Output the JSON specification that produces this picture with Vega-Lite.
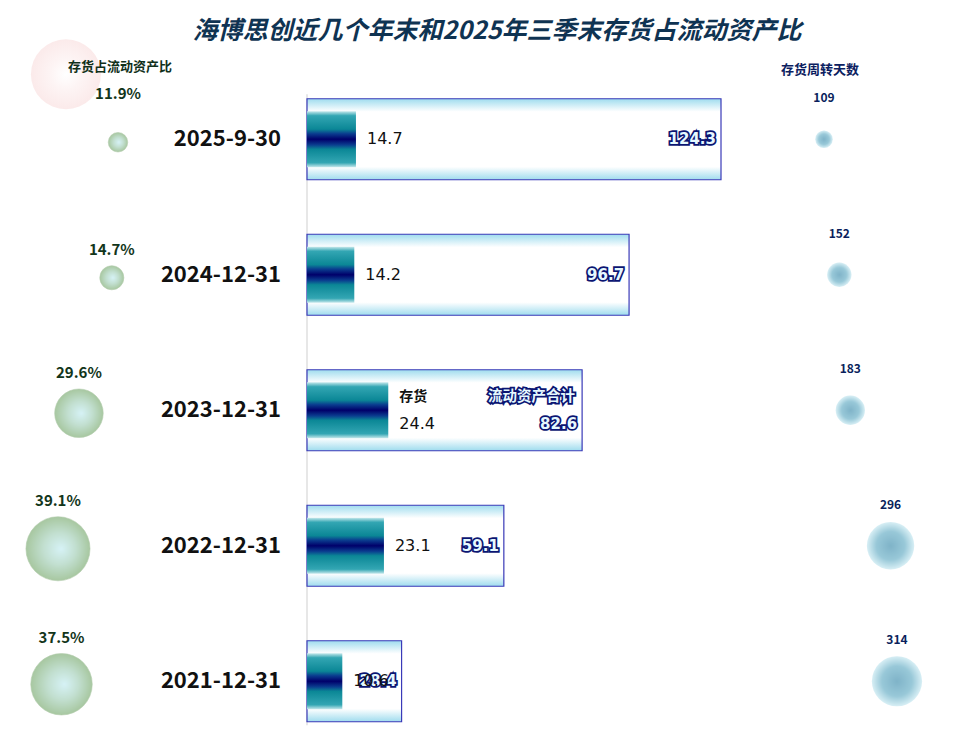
{
  "$schema": "https://vega.github.io/schema/vega-lite/v6.json",
  "width": 960,
  "height": 750,
  "padding": 0,
  "autosize": {"type": "none"},
  "background": "white",
  "config": {"view": {"stroke": null}},
  "title": {"text": "海博思创近几个年末和2025年三季末存货占流动资产比", "fontSize": 25, "font": "Noto Sans CJK SC", "fontWeight": "bold", "fontStyle": "italic", "color": "#0f3352", "offset": -42, "baseline": "bottom", "dx": 17, "dy": 27, "anchor": "middle", "frame": "group"},
  "data": {"values": [
    {"date": "2025-9-30", "inventory": 14.7, "total": 124.3, "ratio": 0.119, "days": 109},
    {"date": "2024-12-31", "inventory": 14.2, "total": 96.7, "ratio": 0.147, "days": 152},
    {"date": "2023-12-31", "inventory": 24.4, "total": 82.6, "ratio": 0.296, "days": 183},
    {"date": "2022-12-31", "inventory": 23.1, "total": 59.1, "ratio": 0.391, "days": 296},
    {"date": "2021-12-31", "inventory": 10.6, "total": 28.4, "ratio": 0.375, "days": 314}
  ]},
  "resolve": {"scale": {"x": "independent", "size": "independent", "yOffset": "independent"}},
  "layer": [
    {
      "layer": [
        {
          "data": {"values": [{}]},
          "mark": {"type": "rule", "color": "#cfcfcf", "strokeWidth": 1, "yOffset": -45, "y2Offset": 44},
          "encoding": {
            "x": {"datum": 0, "type": "quantitative", "scale": {"domain": [0, 124.3], "range": [307, 721]}, "axis": null},
            "y": {"datum": "2025-9-30", "type": "nominal", "axis": null, "scale": {"domain": ["2025-9-30", "2024-12-31", "2023-12-31", "2022-12-31", "2021-12-31"], "range": [71.5, 749], "paddingInner": 0, "paddingOuter": 0}},
            "y2": {"datum": "2021-12-31"}
          }
        },
        {
          "mark": {"type": "bar", "height": 81, "stroke": "#3a3ab8", "strokeWidth": 1.2,
            "fill": {"gradient": "linear", "x1": 0, "y1": 0, "x2": 0, "y2": 1, "stops": [{"offset": 0, "color": "#9fdcee"}, {"offset": 0.16, "color": "#ffffff"}, {"offset": 0.84, "color": "#ffffff"}, {"offset": 1, "color": "#9fdcee"}]}},
          "encoding": {
            "x": {"field": "total", "type": "quantitative", "scale": {"domain": [0, 124.3], "range": [307, 721]}, "axis": null},
            "y": {"field": "date", "type": "nominal", "sort": null, "axis": null, "scale": {"domain": ["2025-9-30", "2024-12-31", "2023-12-31", "2022-12-31", "2021-12-31"], "range": [71.5, 749], "paddingInner": 0, "paddingOuter": 0}}
          }
        },
        {
          "mark": {"type": "bar", "height": 56,
            "fill": {"gradient": "linear", "x1": 0, "y1": 0, "x2": 0, "y2": 1, "stops": [{"offset": 0, "color": "#c5e8ec"}, {"offset": 0.08, "color": "#33a6b3"}, {"offset": 0.32, "color": "#0b8796"}, {"offset": 0.4, "color": "#0a3d8f"}, {"offset": 0.5, "color": "#00006a"}, {"offset": 0.6, "color": "#0a3d8f"}, {"offset": 0.68, "color": "#0b8796"}, {"offset": 0.92, "color": "#33a6b3"}, {"offset": 1, "color": "#c5e8ec"}]}},
          "encoding": {
            "x": {"field": "inventory", "type": "quantitative", "scale": {"domain": [0, 124.3], "range": [307, 721]}, "axis": null},
            "y": {"field": "date", "type": "nominal", "sort": null, "axis": null}
          }
        },
        {
          "transform": [{"filter": "datum.date !== '2023-12-31'"}],
          "mark": {"type": "text", "align": "right", "dx": -5, "font": "DejaVu Sans", "fontWeight": "bold", "fontSize": 15, "fill": "#0b1572", "stroke": "#0b1572", "strokeWidth": 3.5},
          "encoding": {
            "x": {"field": "total", "type": "quantitative", "scale": {"domain": [0, 124.3], "range": [307, 721]}, "axis": null},
            "y": {"field": "date", "type": "nominal", "sort": null, "axis": null},
            "text": {"field": "total", "type": "quantitative", "format": ".1f"}
          }
        },
        {
          "transform": [{"filter": "datum.date !== '2023-12-31'"}],
          "mark": {"type": "text", "align": "right", "dx": -5, "font": "DejaVu Sans", "fontWeight": "bold", "fontSize": 15, "fill": "#e6f9ff"},
          "encoding": {
            "x": {"field": "total", "type": "quantitative", "scale": {"domain": [0, 124.3], "range": [307, 721]}, "axis": null},
            "y": {"field": "date", "type": "nominal", "sort": null, "axis": null},
            "text": {"field": "total", "type": "quantitative", "format": ".1f"}
          }
        },
        {
          "transform": [{"filter": "datum.date === '2023-12-31'"}],
          "mark": {"type": "text", "align": "right", "dx": -5, "dy": 14, "font": "DejaVu Sans", "fontWeight": "bold", "fontSize": 15, "fill": "#0b1572", "stroke": "#0b1572", "strokeWidth": 3.5},
          "encoding": {
            "x": {"field": "total", "type": "quantitative", "scale": {"domain": [0, 124.3], "range": [307, 721]}, "axis": null},
            "y": {"field": "date", "type": "nominal", "sort": null, "axis": null},
            "text": {"field": "total", "type": "quantitative", "format": ".1f"}
          }
        },
        {
          "transform": [{"filter": "datum.date === '2023-12-31'"}],
          "mark": {"type": "text", "align": "right", "dx": -5, "dy": 14, "font": "DejaVu Sans", "fontWeight": "bold", "fontSize": 15, "fill": "#e6f9ff"},
          "encoding": {
            "x": {"field": "total", "type": "quantitative", "scale": {"domain": [0, 124.3], "range": [307, 721]}, "axis": null},
            "y": {"field": "date", "type": "nominal", "sort": null, "axis": null},
            "text": {"field": "total", "type": "quantitative", "format": ".1f"}
          }
        },
        {
          "transform": [{"filter": "datum.date !== '2023-12-31'"}],
          "mark": {"type": "text", "align": "left", "dx": 11, "font": "DejaVu Sans", "fontSize": 16, "fill": "#111111"},
          "encoding": {
            "x": {"field": "inventory", "type": "quantitative", "scale": {"domain": [0, 124.3], "range": [307, 721]}, "axis": null},
            "y": {"field": "date", "type": "nominal", "sort": null, "axis": null},
            "text": {"field": "inventory", "type": "quantitative", "format": ".1f"}
          }
        },
        {
          "transform": [{"filter": "datum.date === '2023-12-31'"}],
          "mark": {"type": "text", "align": "left", "dx": 11, "dy": 14, "font": "DejaVu Sans", "fontSize": 16, "fill": "#111111"},
          "encoding": {
            "x": {"field": "inventory", "type": "quantitative", "scale": {"domain": [0, 124.3], "range": [307, 721]}, "axis": null},
            "y": {"field": "date", "type": "nominal", "sort": null, "axis": null},
            "text": {"field": "inventory", "type": "quantitative", "format": ".1f"}
          }
        },
        {
          "transform": [{"filter": "datum.date === '2023-12-31'"}],
          "mark": {"type": "text", "text": "存货", "align": "left", "dx": 11, "dy": -13, "font": "Noto Sans CJK SC", "fontWeight": "bold", "fontSize": 14, "fill": "#111111"},
          "encoding": {
            "x": {"field": "inventory", "type": "quantitative", "scale": {"domain": [0, 124.3], "range": [307, 721]}, "axis": null},
            "y": {"field": "date", "type": "nominal", "sort": null, "axis": null}
          }
        },
        {
          "transform": [{"filter": "datum.date === '2023-12-31'"}],
          "mark": {"type": "text", "text": "流动资产合计", "align": "right", "dx": -7, "dy": -13, "font": "Noto Sans CJK SC", "fontWeight": "bold", "fontSize": 14.5, "fill": "#0b1572", "stroke": "#0b1572", "strokeWidth": 3.5},
          "encoding": {
            "x": {"field": "total", "type": "quantitative", "scale": {"domain": [0, 124.3], "range": [307, 721]}, "axis": null},
            "y": {"field": "date", "type": "nominal", "sort": null, "axis": null}
          }
        },
        {
          "transform": [{"filter": "datum.date === '2023-12-31'"}],
          "mark": {"type": "text", "text": "流动资产合计", "align": "right", "dx": -7, "dy": -13, "font": "Noto Sans CJK SC", "fontWeight": "bold", "fontSize": 14.5, "fill": "#e6f9ff"},
          "encoding": {
            "x": {"field": "total", "type": "quantitative", "scale": {"domain": [0, 124.3], "range": [307, 721]}, "axis": null},
            "y": {"field": "date", "type": "nominal", "sort": null, "axis": null}
          }
        },
        {
          "mark": {"type": "text", "align": "right", "dx": -26, "font": "Noto Sans CJK SC", "fontWeight": "bold", "fontSize": 22, "fill": "#111111"},
          "encoding": {
            "x": {"datum": 0, "type": "quantitative", "scale": {"domain": [0, 124.3], "range": [307, 721]}, "axis": null},
            "y": {"field": "date", "type": "nominal", "sort": null, "axis": null},
            "text": {"field": "date", "type": "nominal"}
          }
        }
      ]
    },
    {
      "layer": [
        {
          "data": {"values": [{}]},
          "mark": {"type": "point", "shape": "circle", "filled": true, "opacity": 1, "size": 4900, "yOffset": -65,
            "fill": {"gradient": "radial", "x1": 0.5, "y1": 0.5, "r1": 0, "x2": 0.5, "y2": 0.5, "r2": 0.5, "stops": [{"offset": 0, "color": "#ffffff"}, {"offset": 0.45, "color": "#fdf4f4"}, {"offset": 1, "color": "#fbeaea"}]}},
          "encoding": {
            "x": {"datum": 0.355, "type": "quantitative", "scale": {"domain": [0, 0.4], "range": [144.25, 56]}, "axis": null},
            "y": {"datum": "2025-9-30", "type": "nominal", "axis": null}
          }
        },
        {
          "mark": {"type": "point", "shape": "circle", "filled": true, "opacity": 1, "yOffset": 3, "stroke": "#b3cdae", "strokeWidth": 0.6,
            "fill": {"gradient": "radial", "x1": 0.55, "y1": 0.5, "r1": 0, "x2": 0.5, "y2": 0.5, "r2": 0.5, "stops": [{"offset": 0, "color": "#d6f2f6"}, {"offset": 0.5, "color": "#c2dfd0"}, {"offset": 1, "color": "#a7c7a0"}]}},
          "encoding": {
            "x": {"field": "ratio", "type": "quantitative", "scale": {"domain": [0, 0.4], "range": [144.25, 56]}, "axis": null},
            "y": {"field": "date", "type": "nominal", "sort": null, "axis": null},
            "size": {"field": "ratio", "type": "quantitative", "scale": {"type": "pow", "exponent": 2, "domain": [0, 0.4], "range": [0, 4303]}, "legend": null}
          }
        },
        {
          "transform": [{"filter": "datum.date !== '2025-9-30'"}],
          "mark": {"type": "text", "font": "Noto Sans CJK SC", "fontWeight": "bold", "fontSize": 15, "fill": "#12351a"},
          "encoding": {
            "x": {"field": "ratio", "type": "quantitative", "scale": {"domain": [0, 0.4], "range": [144.25, 56]}, "axis": null},
            "y": {"field": "date", "type": "nominal", "sort": null, "axis": null},
            "yOffset": {"field": "ratio", "type": "quantitative", "scale": {"domain": [0, 0.4], "range": [54.75, 21.95]}},
            "text": {"field": "ratio", "type": "quantitative", "format": ".1%"}
          }
        },
        {
          "transform": [{"filter": "datum.date === '2025-9-30'"}],
          "mark": {"type": "text", "font": "Noto Sans CJK SC", "fontWeight": "bold", "fontSize": 15, "fill": "#12351a", "dy": -22},
          "encoding": {
            "x": {"field": "ratio", "type": "quantitative", "scale": {"domain": [0, 0.4], "range": [144.25, 56]}, "axis": null},
            "y": {"field": "date", "type": "nominal", "sort": null, "axis": null},
            "yOffset": {"field": "ratio", "type": "quantitative", "scale": {"domain": [0, 0.4], "range": [54.75, 21.95]}},
            "text": {"field": "ratio", "type": "quantitative", "format": ".1%"}
          }
        },
        {
          "data": {"values": [{}]},
          "mark": {"type": "text", "text": "存货占流动资产比", "font": "Noto Sans CJK SC", "fontWeight": "bold", "fontSize": 13, "fill": "#10301a", "yOffset": -72},
          "encoding": {
            "x": {"datum": 0.11, "type": "quantitative", "scale": {"domain": [0, 0.4], "range": [144.25, 56]}, "axis": null},
            "y": {"datum": "2025-9-30", "type": "nominal", "axis": null}
          }
        }
      ]
    },
    {
      "layer": [
        {
          "mark": {"type": "point", "shape": "circle", "filled": true, "opacity": 1,
            "fill": {"gradient": "radial", "x1": 0.5, "y1": 0.5, "r1": 0, "x2": 0.5, "y2": 0.5, "r2": 0.5, "stops": [{"offset": 0, "color": "#7fb3c8"}, {"offset": 0.6, "color": "#98c8d8"}, {"offset": 1, "color": "#d8eff5"}]}},
          "encoding": {
            "x": {"field": "days", "type": "quantitative", "scale": {"domain": [0, 320], "range": [785.2, 899.1]}, "axis": null},
            "y": {"field": "date", "type": "nominal", "sort": null, "axis": null},
            "size": {"field": "days", "type": "quantitative", "scale": {"type": "pow", "exponent": 2, "domain": [0, 320], "range": [0, 2621]}, "legend": null}
          }
        },
        {
          "mark": {"type": "text", "font": "Noto Sans CJK SC", "fontWeight": "bold", "fontSize": 12, "fill": "#0a1f5c", "dy": -41},
          "encoding": {
            "x": {"field": "days", "type": "quantitative", "scale": {"domain": [0, 320], "range": [785.2, 899.1]}, "axis": null},
            "y": {"field": "date", "type": "nominal", "sort": null, "axis": null},
            "text": {"field": "days", "type": "quantitative"}
          }
        },
        {
          "data": {"values": [{}]},
          "mark": {"type": "text", "text": "存货周转天数", "font": "Noto Sans CJK SC", "fontWeight": "bold", "fontSize": 13, "fill": "#0b2060", "yOffset": -69},
          "encoding": {
            "x": {"datum": 98, "type": "quantitative", "scale": {"domain": [0, 320], "range": [785.2, 899.1]}, "axis": null},
            "y": {"datum": "2025-9-30", "type": "nominal", "axis": null}
          }
        }
      ]
    }
  ]
}
